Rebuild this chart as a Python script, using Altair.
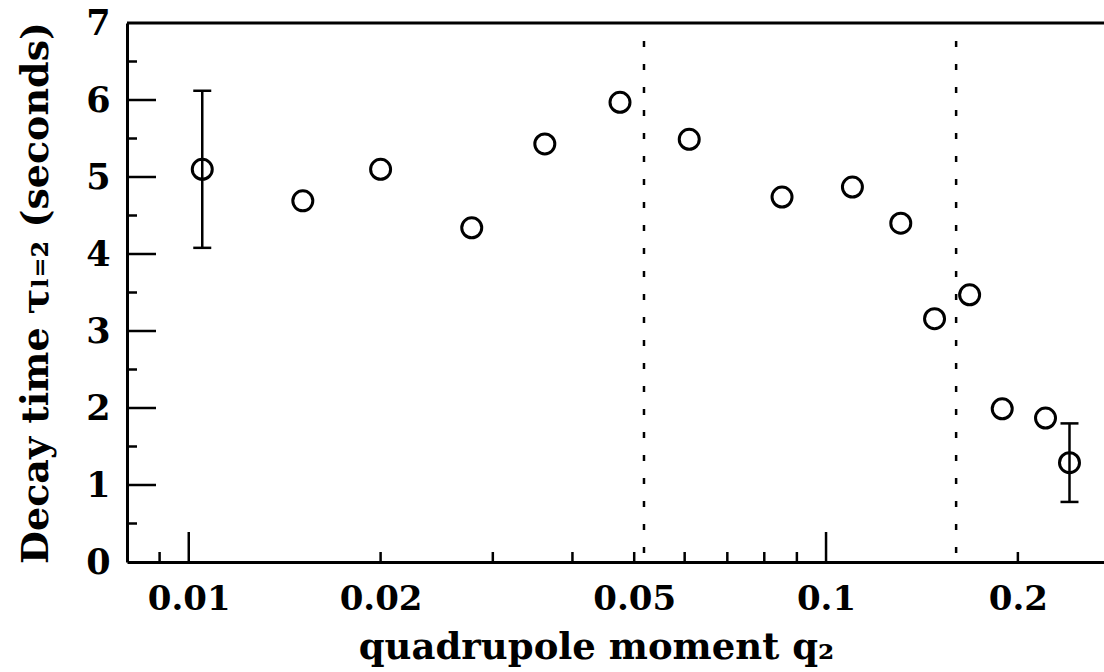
import altair as alt
import pandas as pd

# Decay time of the l=2 mode against the quadrupole moment
q2 = [0.0105, 0.0151, 0.0200, 0.0278, 0.0362, 0.0475, 0.0610, 0.0853,
      0.110, 0.131, 0.148, 0.168, 0.189, 0.221, 0.241]
tau = [5.10, 4.69, 5.10, 4.34, 5.43, 5.97, 5.49, 4.74,
       4.87, 4.40, 3.16, 3.47, 1.99, 1.87, 1.29]

# Points that carry an error bar
err_q2 = [0.0105, 0.241]
err_lo = [4.08, 0.78]
err_hi = [6.12, 1.80]

# Vertical dotted markers
boundaries = [0.0518, 0.160]

# Axis ticks
x_labels = [0.01, 0.02, 0.05, 0.1, 0.2]
x_major = [0.01, 0.1]
x_minor = [0.009, 0.02, 0.03, 0.04, 0.05, 0.06, 0.07, 0.08, 0.09, 0.2]
y_labels = [0, 1, 2, 3, 4, 5, 6, 7]
y_major = [1, 2, 3, 4, 5, 6]
y_minor = [0.5, 1.5, 2.5, 3.5, 4.5, 5.5, 6.5]

X_DOMAIN = [0.008, 0.273]
Y_DOMAIN = [0, 7]
W, H = 977, 539
FONT = "DejaVu Serif"
INK = "#000000"

pts = pd.DataFrame({"q2": q2, "tau": tau})
errs = pd.DataFrame({"q2": err_q2, "lo": err_lo, "hi": err_hi})
bnd = pd.DataFrame({"q2": boundaries})
xmaj = pd.DataFrame({"q2": x_major})
xmin = pd.DataFrame({"q2": x_minor})
ymaj = pd.DataFrame({"tau": y_major})
ymin = pd.DataFrame({"tau": y_minor})

xscale = alt.Scale(type="log", domain=X_DOMAIN, nice=False)
yscale = alt.Scale(domain=Y_DOMAIN, nice=False, zero=False)

x_axis = alt.Axis(
    values=x_labels, format="~g", ticks=False, grid=False,
    domainColor=INK, domainWidth=3,
    labelFont=FONT, labelFontSize=34, labelFontWeight="bold", labelColor=INK,
    labelPadding=20, labelFlush=False,
    title="quadrupole moment q₂", titleFont=FONT, titleFontSize=37,
    titleFontWeight="bold", titleColor=INK, titlePadding=13,
    titleX=469, titleAnchor="middle",
)
y_axis = alt.Axis(
    values=y_labels, format="d", ticks=False, grid=False,
    domainColor=INK, domainWidth=3,
    labelFont=FONT, labelFontSize=35, labelFontWeight="bold", labelColor=INK,
    labelPadding=17, labelFlush=False,
    title="Decay time τₗ₌₂ (seconds)", titleFont=FONT, titleFontSize=38,
    titleFontWeight="bold", titleColor=INK, titlePadding=30,
)

X = alt.X("q2:Q", scale=xscale, axis=x_axis)
Y = alt.Y("tau:Q", scale=yscale, axis=y_axis)

points = alt.Chart(pts).mark_point(
    shape="circle", filled=False, size=400, strokeWidth=3, color=INK, opacity=1
).encode(x=X, y=Y)

bars = alt.Chart(errs).mark_rule(strokeWidth=2.5, color=INK).encode(
    x=alt.X("q2:Q", scale=xscale), y=alt.Y("lo:Q", scale=yscale), y2="hi:Q"
)
caps_lo = alt.Chart(errs).mark_tick(
    orient="horizontal", size=18, thickness=2.5, color=INK, opacity=1
).encode(x=alt.X("q2:Q", scale=xscale), y=alt.Y("lo:Q", scale=yscale))
caps_hi = alt.Chart(errs).mark_tick(
    orient="horizontal", size=18, thickness=2.5, color=INK, opacity=1
).encode(x=alt.X("q2:Q", scale=xscale), y=alt.Y("hi:Q", scale=yscale))

dotted = alt.Chart(bnd).mark_rule(
    strokeWidth=2.5, strokeDash=[6, 17], color=INK
).encode(x=alt.X("q2:Q", scale=xscale), y=alt.value(18), y2=alt.value(H))

# Inward tick marks on the bottom and left axes
xt_major = alt.Chart(xmaj).mark_rule(strokeWidth=2.5, color=INK).encode(
    x=alt.X("q2:Q", scale=xscale), y=alt.value(H), y2=alt.value(H - 30)
)
xt_minor = alt.Chart(xmin).mark_rule(strokeWidth=2.5, color=INK).encode(
    x=alt.X("q2:Q", scale=xscale), y=alt.value(H), y2=alt.value(H - 10)
)
yt_major = alt.Chart(ymaj).mark_rule(strokeWidth=2.5, color=INK).encode(
    y=alt.Y("tau:Q", scale=yscale), x=alt.value(0), x2=alt.value(29)
)
yt_minor = alt.Chart(ymin).mark_rule(strokeWidth=2.5, color=INK).encode(
    y=alt.Y("tau:Q", scale=yscale), x=alt.value(0), x2=alt.value(10)
)

# Top frame line
top = alt.Chart(pd.DataFrame({"tau": [7]})).mark_rule(strokeWidth=3, color=INK).encode(
    y=alt.Y("tau:Q", scale=yscale), x=alt.value(0), x2=alt.value(W)
)

chart = alt.layer(
    dotted, xt_major, xt_minor, yt_major, yt_minor, top,
    bars, caps_lo, caps_hi, points,
).properties(
    width=W, height=H,
    autosize=alt.AutoSizeParams(type="none"),
    padding={"left": 127, "top": 23, "right": 0, "bottom": 110},
    background="white",
).configure_view(stroke=None)

chart.save("out.html", embed_options={"renderer": "svg", "actions": False})
